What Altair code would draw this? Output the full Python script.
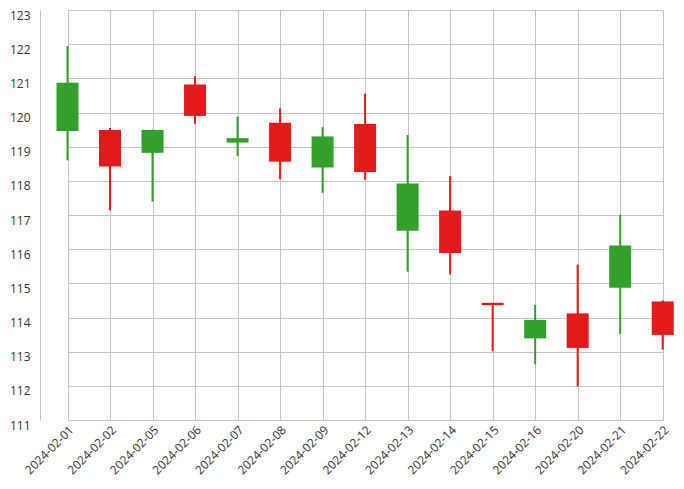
import altair as alt
import pandas as pd

dates = ["2024-02-01", "2024-02-02", "2024-02-05", "2024-02-06", "2024-02-07",
         "2024-02-08", "2024-02-09", "2024-02-12", "2024-02-13", "2024-02-14",
         "2024-02-15", "2024-02-16", "2024-02-20", "2024-02-21", "2024-02-22"]
opens = [119.46, 119.49, 118.82, 120.82, 119.12, 119.70, 118.39, 119.66, 116.54, 117.13,
         114.43, 113.39, 114.12, 114.87, 114.47]
closes = [120.87, 118.42, 119.49, 119.90, 119.25, 118.56, 119.30, 118.26, 117.92, 115.89,
          114.36, 113.93, 113.11, 116.11, 113.49]
highs = [121.95, 119.55, 119.50, 121.06, 119.88, 120.12, 119.57, 120.55, 119.34, 118.14,
         114.43, 114.37, 115.55, 117.01, 114.50]
lows = [118.60, 117.14, 117.39, 119.67, 118.73, 118.05, 117.65, 118.03, 115.34, 115.26,
        113.01, 112.63, 111.99, 113.52, 113.06]
y_ticks = list(range(111, 124))

df = pd.DataFrame({"date": dates, "open": opens, "close": closes, "high": highs, "low": lows})

FONT = "Open Sans"
GREEN = "#33a02c"
RED = "#e31a1c"
GRID = "#c4c4c4"

x = alt.X("date:O", sort=None, title=None,
          scale=alt.Scale(type="point", range=[27.5, 622.7], padding=0),
          axis=alt.Axis(labelAngle=-45, grid=True, ticks=False, domain=False,
                        labelPadding=4, labelFontSize=12, labelFont=FONT,
                        labelColor="#333333", gridColor=GRID, labelOverlap=False))
y_scale = alt.Scale(domain=[111, 123], nice=False, zero=False)
y_axis = alt.Axis(values=y_ticks, tickCount=13, ticks=False, labelPadding=10,
                  labelBaseline="top", labelOverlap=False,
                  labelFontSize=12, labelFont=FONT, labelColor="#333333",
                  domainColor=GRID, gridColor=GRID)
color = alt.condition("datum.open < datum.close", alt.value(GREEN), alt.value(RED))

base = alt.Chart(df).encode(x=x, color=color)

wick = base.mark_rule(strokeWidth=2).encode(
    y=alt.Y("low:Q", title=None, scale=y_scale, axis=y_axis),
    y2="high:Q",
)
body = base.mark_bar(size=22, minBandSize=2).encode(
    y=alt.Y("open:Q", title=None, scale=y_scale, axis=y_axis),
    y2="close:Q",
)

chart = (wick + body).properties(
    width=636, height=410,
    autosize=alt.AutoSizeParams(type="none"),
    padding={"left": 32, "top": 2, "right": 0, "bottom": 60},
).configure_view(stroke=None)

chart.save("out.html", embed_options={"renderer": "svg", "actions": False})
